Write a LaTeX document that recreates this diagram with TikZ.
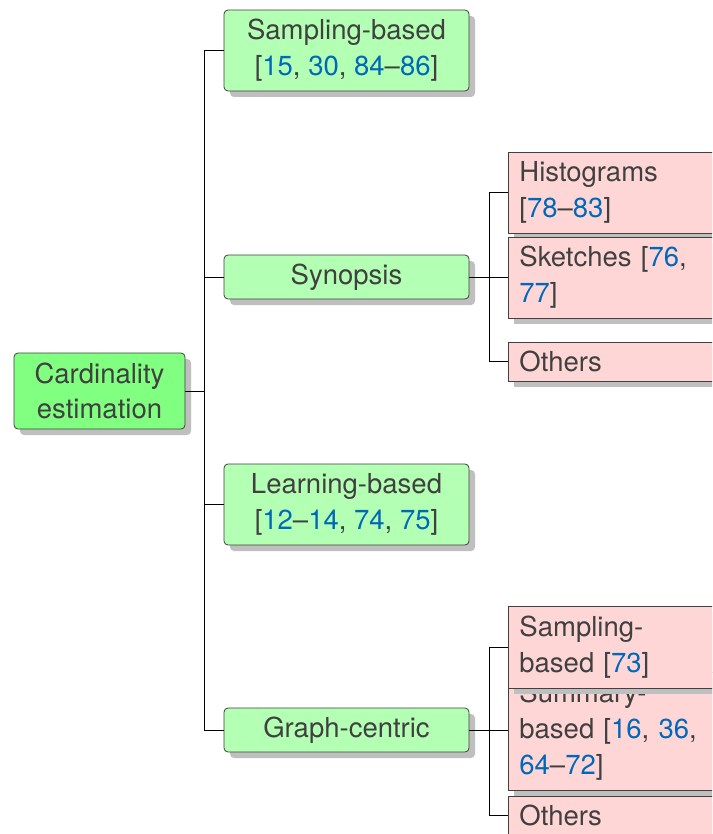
\documentclass[tikz,border=0pt]{standalone}
\usepackage{fontspec}
\setmainfont{TeX Gyre Heros}
\usetikzlibrary{shadows}
\definecolor{rootg}{HTML}{80FF80}
\definecolor{lightg}{HTML}{B3FFB3}
\definecolor{pinkfill}{HTML}{FFD6D6}
\definecolor{citeblue}{HTML}{0068B8}
\definecolor{txtgray}{HTML}{404040}
\definecolor{edgegray}{HTML}{404040}
\newcommand{\cc}[1]{\textcolor{citeblue}{#1}}
\begin{document}
\begin{tikzpicture}[x=1pt,y=-1pt,
  basebox/.style={draw=edgegray, line width=0.8pt, text=txtgray,
    font=\fontsize{27.5}{36}\selectfont,
    drop shadow={shadow xshift=6pt, shadow yshift=-6pt, fill=black!25, opacity=1}},
  rootbox/.style={basebox, fill=rootg, rounded corners=4pt, minimum width=171pt, align=center, inner sep=0pt},
  midbox/.style={basebox, fill=lightg, rounded corners=4pt, minimum width=245pt, align=center, inner sep=0pt},
  leafbox/.style={basebox, fill=pinkfill, anchor=west, text width=185pt, align=left, inner xsep=11pt, inner ysep=0pt, minimum width=207pt},
  conn/.style={draw=black, line width=0.8pt}
]
\useasboundingbox (0,0) rectangle (712,834);
\clip (0,0) rectangle (712,834);
\fill[white] (0,0) rectangle (712,834);

\coordinate (tr) at (204,0);
\coordinate (trb) at (489,0);

\node[rootbox, minimum height=76pt, font=\fontsize{27.5}{35}\selectfont] (root) at (99.5,391) {Cardinality\\estimation};
\node[midbox, minimum height=81pt] (samp) at (346.5,50.5) {Sampling-based\\{}[\cc{15}, \cc{30}, \cc{84}–\cc{86}]};
\node[midbox, minimum height=44pt] (syn) at (346.5,277) {Synopsis};
\node[midbox, minimum height=81pt] (learn) at (346.5,504.5) {Learning-based\\{}[\cc{12}–\cc{14}, \cc{74}, \cc{75}]};
\node[midbox, minimum height=44pt] (graph) at (346.5,730) {Graph-centric};

\node[leafbox, minimum height=81pt] (hist) at (508,192.5) {Histograms\\{}[\cc{78}–\cc{83}]};
\node[leafbox, minimum height=81pt] (sketch) at (508,277.5) {Sketches [\cc{76},\\\cc{77}]};
\node[leafbox, minimum height=39pt] (othA) at (508,361.5) {Others};
\node[leafbox, minimum height=118pt] (summ) at (508,731) {Summary-\\based [\cc{16}, \cc{36},\\\cc{64}–\cc{72}]};
\node[leafbox, minimum height=82pt] (sampb) at (508,647) {Sampling-\\based [\cc{73}]};
\node[leafbox, minimum height=39pt] (othB) at (508,815.5) {Others};

\draw[conn] (root.east) -- (root.east -| tr);
\draw[conn] (samp.west) -- (samp.west -| tr) -- (graph.west -| tr) -- (graph.west);
\draw[conn] (syn.west) -- (syn.west -| tr);
\draw[conn] (learn.west) -- (learn.west -| tr);
\draw[conn] (syn.east) -- (syn.east -| sketch.west);
\draw[conn] (hist.west) -- (hist.west -| trb) -- (othA.west -| trb) -- (othA.west);
\draw[conn] (graph.east) -- (graph.east -| summ.west);
\draw[conn] (sampb.west) -- (sampb.west -| trb) -- (othB.west -| trb) -- (othB.west);
\end{tikzpicture}
\end{document}
